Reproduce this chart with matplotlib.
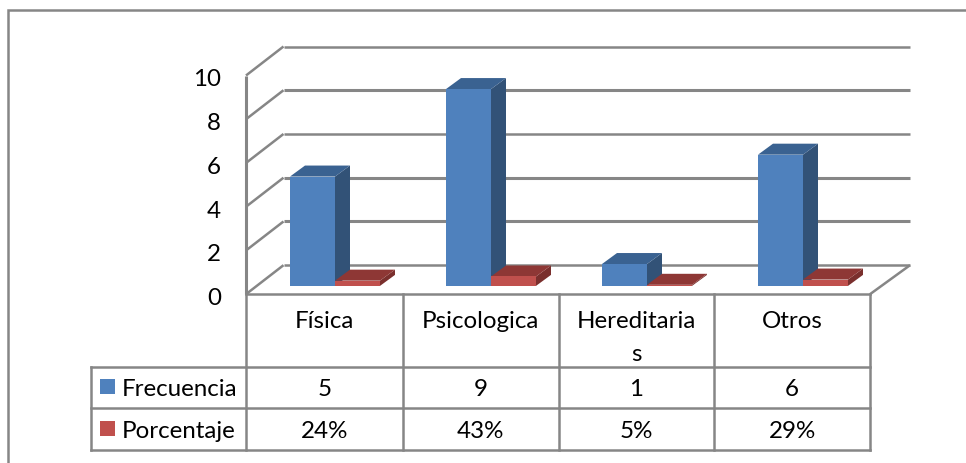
import matplotlib
matplotlib.use("Agg")
import matplotlib.pyplot as plt
from matplotlib.patches import Polygon, Rectangle
from matplotlib.transforms import Affine2D

plt.rcParams['font.family'] = ['Lato', 'DejaVu Sans']

categorias = ["Física", "Psicologica", "Hereditaria\ns", "Otros"]
frecuencia = [5, 9, 1, 6]
porcentaje = [0.24, 0.43, 0.05, 0.29]
porcentaje_txt = ["24%", "43%", "5%", "29%"]
ticks_y = [0, 2, 4, 6, 8, 10]

W, H = 966, 464
GRIS = "#868686"
AZUL = ("#4F81BD", "#3A6291", "#325277")
ROJO = ("#C0504D", "#8E3735", "#7A2F2D")
TAM = 17.4

fig = plt.figure(figsize=(W / 100, H / 100), dpi=100, facecolor="white")

# Overlay in pixel units for the outer frame and the data table
capa = fig.add_axes([0, 0, 1, 1])
capa.set_xlim(0, W)
capa.set_ylim(H, 0)
capa.axis("off")

# Front plane of the 3D plot
x0, x1, y0, y10 = 246.0, 870.0, 295.2, 76.5
ax = fig.add_axes([x0 / W, 1 - y0 / H, (x1 - x0) / W, (y0 - y10) / H])
ax.set_xlim(0, 4)
ax.set_ylim(0, 10)
ax.patch.set_visible(False)
for s in ax.spines.values():
    s.set_visible(False)
ax.set_xticks([])
ax.set_yticks(ticks_y)
ax.tick_params(axis="y", length=0, pad=18, labelsize=TAM)
for etiqueta in ax.get_yticklabels():
    etiqueta.set_transform(etiqueta.get_transform() + Affine2D().translate(0, -1.5))

# Depth of the chart box and of the columns, in data units
px_x = 4 / (x1 - x0)
px_y = 10 / (y0 - y10)
prof_izq, prof_der, prof_y = 37.5 * px_x, 40 * px_x, 29 * px_y
col_x, col_y = 15 * px_x, 11 * px_y
desp_x, desp_y = 11 * px_x, 8.3 * px_y
ancho = 45 * px_x


def linea(xs, ys, lw=1.8):
    ax.plot(xs, ys, color=GRIS, lw=lw, clip_on=False, solid_capstyle="butt", zorder=1)


for t in ticks_y:
    linea([0, prof_izq], [t, t + prof_y])
    linea([prof_izq, 4 + prof_der], [t + prof_y, t + prof_y], lw=2.2 if t in (2, 4, 8) else 1.8)
linea([0, 0], [0, 10], lw=2.2)
linea([4, 4 + prof_der], [0, prof_y])


def columna(x, v, tonos):
    base = desp_y
    frente, arriba, lado = tonos
    estilo = dict(edgecolor="none", clip_on=False)
    ax.add_patch(Polygon([(x + ancho, base), (x + ancho + col_x, base + col_y),
                          (x + ancho + col_x, base + v + col_y), (x + ancho, base + v)],
                         facecolor=lado, zorder=3, **estilo))
    ax.add_patch(Polygon([(x, base + v), (x + col_x, base + v + col_y),
                          (x + ancho + col_x, base + v + col_y), (x + ancho, base + v)],
                         facecolor=arriba, zorder=3, **estilo))
    ax.add_patch(Rectangle((x, base), ancho, v, facecolor=frente, zorder=4, **estilo))


for i in range(len(categorias)):
    centro = i + 0.5 + desp_x
    columna(centro - ancho, frecuencia[i], AZUL)
    columna(centro, porcentaje[i], ROJO)

# Outer frame: top and left edges only reach the visible area
capa.plot([8, 8, W], [H, 11, 11], color=GRIS, lw=1.8, solid_joinstyle="miter")

# Data table
cols = [246.0, 402.5, 558.5, 714.0, 870.0]
filas = [295.0, 367.5, 409.3, 450.7]
izq = 90.7


def t_linea(xs, ys, lw=1.8):
    capa.plot(xs, ys, color=GRIS, lw=lw, solid_capstyle="projecting")


t_linea([cols[0], cols[-1]], [filas[0], filas[0]])
for f in filas[1:]:
    t_linea([izq, cols[-1]], [f, f])
for c in cols:
    t_linea([c, c], [filas[0], filas[-1]])
t_linea([izq, izq], [filas[1], filas[-1]])

for i, c in enumerate(categorias):
    cx = (cols[i] + cols[i + 1]) / 2
    for k, txt in enumerate(c.split("\n")):
        capa.text(cx, 322 + 33 * k, txt, ha="center", va="center", fontsize=TAM, color="black")
    capa.text(cx, 390, str(frecuencia[i]), ha="center", va="center", fontsize=TAM, color="black")
    capa.text(cx, 432, porcentaje_txt[i], ha="center", va="center", fontsize=TAM, color="black")

for nombre, fila, tono in (("Frecuencia", 388, AZUL[0]), ("Porcentaje", 430, ROJO[0])):
    capa.add_patch(Rectangle((100, fila - 8), 15, 15, facecolor=tono, edgecolor="none"))
    capa.text(122, fila + 2, nombre, ha="left", va="center", fontsize=TAM, color="black")

fig.savefig("out.png", dpi=100, facecolor="white")
